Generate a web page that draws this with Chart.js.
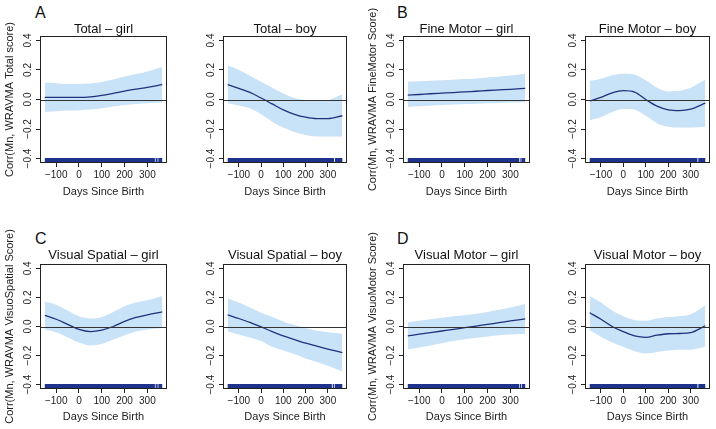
<!DOCTYPE html>
<html>
<head>
<meta charset="utf-8">
<script src="https://cdn.jsdelivr.net/npm/chart.js@4.4.0/dist/chart.umd.min.js"></script>
<style>
  body { margin: 0; background: #fff; }
  #fig { position: relative; width: 716px; height: 429px; overflow: hidden; }
  #fig canvas { position: absolute; }
  .letter { position: absolute; font: 16px 'Liberation Sans', Arial, sans-serif; line-height: 16px; color: #111; }
</style>
</head>
<body>
<div id="fig">
  <div class="letter" style="left:35px;top:5px">A</div>
  <div class="letter" style="left:397px;top:5px">B</div>
  <div class="letter" style="left:35px;top:231px">C</div>
  <div class="letter" style="left:397px;top:231px">D</div>
</div>
<script>
const days = [-150, -100, -50, 0, 50, 100, 150, 200, 250, 300, 365];
const xTicks = [-100, 0, 100, 200, 300];
const yTicks = [-0.4, -0.2, 0, 0.2, 0.4];

// A: Total
const totalGirlEst = [0.015, 0.015, 0.014, 0.014, 0.018, 0.028, 0.042, 0.057, 0.070, 0.082, 0.100];
const totalGirlHi  = [0.115, 0.110, 0.105, 0.105, 0.108, 0.118, 0.135, 0.155, 0.172, 0.190, 0.220];
const totalGirlLo  = [-0.085, -0.080, -0.075, -0.072, -0.068, -0.060, -0.048, -0.038, -0.030, -0.025, -0.020];
const totalBoyEst  = [0.100, 0.075, 0.048, 0.010, -0.030, -0.070, -0.100, -0.120, -0.130, -0.130, -0.110];
const totalBoyHi   = [0.230, 0.200, 0.160, 0.120, 0.080, 0.040, 0.010, -0.005, -0.010, -0.005, 0.035];
const totalBoyLo   = [-0.025, -0.040, -0.060, -0.100, -0.150, -0.190, -0.220, -0.240, -0.250, -0.250, -0.250];

// B: Fine Motor
const fineGirlEst = [0.030, 0.034, 0.039, 0.043, 0.047, 0.052, 0.056, 0.061, 0.065, 0.069, 0.075];
const fineGirlHi  = [0.120, 0.123, 0.127, 0.130, 0.134, 0.138, 0.143, 0.149, 0.155, 0.162, 0.175];
const fineGirlLo  = [-0.050, -0.046, -0.042, -0.038, -0.034, -0.031, -0.028, -0.025, -0.023, -0.021, -0.018];
const fineBoyEst  = [-0.010, 0.015, 0.045, 0.060, 0.050, 0.000, -0.045, -0.070, -0.075, -0.065, -0.025];
const fineBoyHi   = [0.125, 0.140, 0.165, 0.175, 0.170, 0.130, 0.080, 0.055, 0.060, 0.080, 0.135];
const fineBoyLo   = [-0.140, -0.120, -0.085, -0.065, -0.070, -0.110, -0.160, -0.185, -0.190, -0.190, -0.185];

// C: Visual Spatial
const spatGirlEst = [0.077, 0.050, 0.015, -0.020, -0.035, -0.025, 0.000, 0.035, 0.062, 0.080, 0.100];
const spatGirlHi  = [0.170, 0.150, 0.110, 0.070, 0.055, 0.065, 0.100, 0.140, 0.165, 0.180, 0.210];
const spatGirlLo  = [-0.020, -0.040, -0.075, -0.110, -0.130, -0.120, -0.090, -0.060, -0.035, -0.020, -0.010];
const spatBoyEst  = [0.080, 0.055, 0.028, -0.003, -0.035, -0.065, -0.090, -0.115, -0.135, -0.155, -0.180];
const spatBoyHi   = [0.195, 0.165, 0.130, 0.095, 0.065, 0.035, 0.010, -0.010, -0.030, -0.040, -0.050];
const spatBoyLo   = [-0.035, -0.055, -0.075, -0.100, -0.140, -0.165, -0.190, -0.220, -0.245, -0.270, -0.310];

// D: Visual Motor
const motGirlEst = [-0.065, -0.053, -0.042, -0.031, -0.020, -0.008, 0.003, 0.015, 0.026, 0.038, 0.052];
const motGirlHi  = [0.030, 0.040, 0.050, 0.060, 0.070, 0.078, 0.088, 0.100, 0.115, 0.130, 0.155];
const motGirlLo  = [-0.157, -0.145, -0.130, -0.115, -0.100, -0.088, -0.077, -0.068, -0.060, -0.055, -0.050];
const motBoyEst  = [0.095, 0.050, 0.000, -0.035, -0.065, -0.075, -0.060, -0.050, -0.048, -0.042, 0.005];
const motBoyHi   = [0.210, 0.165, 0.110, 0.070, 0.045, 0.040, 0.055, 0.065, 0.070, 0.085, 0.145];
const motBoyLo   = [-0.025, -0.070, -0.110, -0.140, -0.170, -0.185, -0.175, -0.165, -0.160, -0.160, -0.140];

// rug of observed days (solid runs with small gaps)
const rugTotalGirl = [[-150, 333], [336, 345], [348, 365]];
const rugTotalBoy  = [[-150, 328], [332, 365]];
const rugFineGirl  = [[-150, 338], [341, 345], [348, 365]];
const rugFineBoy   = [[-150, 330], [334, 365]];
const rugSpatGirl  = [[-150, 333], [336, 345], [348, 365]];
const rugSpatBoy   = [[-150, 318], [322, 328], [331, 365]];
const rugMotGirl   = [[-150, 338], [341, 348], [351, 365]];
const rugMotBoy    = [[-150, 330], [334, 365]];

const BAND = 'rgb(200, 226, 248)';
const LINE = 'rgb(35, 48, 125)';
const RUG = 'rgb(30, 52, 140)';
const INK = '#222';

Chart.defaults.font.family = "'Liberation Sans', Arial, sans-serif";
Chart.defaults.color = INK;

// zero reference line on top of the band, then the frame
const boxPlugin = {
  id: 'box',
  afterDatasetsDraw(chart) {
    const a = chart.chartArea;
    const ctx = chart.ctx;
    const y0 = Math.round(chart.scales.y.getPixelForValue(0)) + 0.5;
    ctx.save();
    ctx.strokeStyle = '#333';
    ctx.lineWidth = 1;
    ctx.beginPath();
    ctx.moveTo(a.left, y0);
    ctx.lineTo(a.right, y0);
    ctx.stroke();
    ctx.strokeStyle = INK;
    ctx.strokeRect(Math.round(a.left) + 0.5, Math.round(a.top) + 0.5,
      Math.round(a.width) - 1, Math.round(a.height) - 1);
    ctx.restore();
  }
};

const minus = s => s.replace('-', '\u2212');

function pts(ys) {
  return days.map((d, i) => ({ x: d, y: ys[i] }));
}

function rugPts(segs) {
  const out = [];
  segs.forEach((s, i) => {
    if (i > 0) out.push({ x: s[0] - 1, y: null });
    out.push({ x: s[0], y: -0.417 });
    out.push({ x: s[1], y: -0.417 });
  });
  return out;
}

const rows = {
  top:    { canvasTop: 0,   height: 215, boxTop: 36,  boxBottom: 163, titlePad: 23, titleGap: 0, xTitlePad: 17.5 },
  bottom: { canvasTop: 215, height: 214, boxTop: 264, boxBottom: 389, titlePad: 34, titleGap: 2, xTitlePad: 6.5 }
};
const cols = [[40, 167], [223, 347], [403, 530], [585, 710]];

const panels = [
  { row: 'top', col: 0, title: 'Total \u2013 girl', est: totalGirlEst, hi: totalGirlHi, lo: totalGirlLo, rug: rugTotalGirl, yTitle: 'Corr(Mn, WRAVMA Total score)' },
  { row: 'top', col: 1, title: 'Total \u2013 boy', est: totalBoyEst, hi: totalBoyHi, lo: totalBoyLo, rug: rugTotalBoy },
  { row: 'top', col: 2, title: 'Fine Motor \u2013 girl', est: fineGirlEst, hi: fineGirlHi, lo: fineGirlLo, rug: rugFineGirl, yTitle: 'Corr(Mn, WRAVMA FineMotor Score)' },
  { row: 'top', col: 3, title: 'Fine Motor \u2013 boy', est: fineBoyEst, hi: fineBoyHi, lo: fineBoyLo, rug: rugFineBoy },
  { row: 'bottom', col: 0, title: 'Visual Spatial \u2013 girl', est: spatGirlEst, hi: spatGirlHi, lo: spatGirlLo, rug: rugSpatGirl, yTitle: 'Corr(Mn, WRAVMA VisuoSpatial Score)' },
  { row: 'bottom', col: 1, title: 'Visual Spatial \u2013 boy', est: spatBoyEst, hi: spatBoyHi, lo: spatBoyLo, rug: rugSpatBoy },
  { row: 'bottom', col: 2, title: 'Visual Motor \u2013 girl', est: motGirlEst, hi: motGirlHi, lo: motGirlLo, rug: rugMotGirl, yTitle: 'Corr(Mn, WRAVMA VisuoMotor Score)' },
  { row: 'bottom', col: 3, title: 'Visual Motor \u2013 boy', est: motBoyEst, hi: motBoyHi, lo: motBoyLo, rug: rugMotBoy }
];

const fig = document.getElementById('fig');

panels.forEach(p => {
  const r = rows[p.row];
  const [boxL, boxR] = cols[p.col];
  const left = boxL - 40;
  const width = boxR + 5 - left;

  const canvas = document.createElement('canvas');
  canvas.width = width;
  canvas.height = r.height;
  canvas.style.left = left + 'px';
  canvas.style.top = r.canvasTop + 'px';
  canvas.style.width = width + 'px';
  canvas.style.height = r.height + 'px';
  fig.appendChild(canvas);

  new Chart(canvas.getContext('2d'), {
    type: 'line',
    data: {
      datasets: [
        { data: pts(p.est), borderColor: LINE, borderWidth: 1.3, pointRadius: 0, fill: false, cubicInterpolationMode: 'monotone' },
        { data: rugPts(p.rug), borderColor: RUG, borderWidth: 6, borderCapStyle: 'butt', pointRadius: 0, fill: false, spanGaps: false },
        { data: pts(p.hi), borderWidth: 0, borderColor: 'rgba(0,0,0,0)', backgroundColor: BAND, pointRadius: 0, fill: '+1', cubicInterpolationMode: 'monotone' },
        { data: pts(p.lo), borderWidth: 0, borderColor: 'rgba(0,0,0,0)', pointRadius: 0, fill: false, cubicInterpolationMode: 'monotone' }
      ]
    },
    options: {
      responsive: false,
      animation: false,
      devicePixelRatio: 1,
      layout: { padding: { top: r.titlePad, right: 5, left: 0, bottom: 0 } },
      plugins: {
        legend: { display: false },
        tooltip: { enabled: false },
        title: {
          display: true,
          text: p.title,
          fullSize: false,
          color: '#111',
          font: { size: 13, lineHeight: 1, weight: 'normal' },
          padding: { top: 0, bottom: r.titleGap }
        }
      },
      scales: {
        x: {
          type: 'linear',
          min: -171,
          max: 386,
          afterBuildTicks: s => { s.ticks = xTicks.map(v => ({ value: v })); },
          afterFit: s => { s.height = r.height - (r.boxBottom - r.canvasTop); },
          border: { display: false },
          grid: { drawOnChartArea: false, tickLength: 4, tickColor: INK },
          ticks: { font: { size: 10 }, padding: 2, maxRotation: 0, autoSkip: false,
            callback: v => minus(String(v)) },
          title: { display: true, text: 'Days Since Birth', font: { size: 11, lineHeight: 1 },
            padding: { top: 0, bottom: r.xTitlePad } }
        },
        y: {
          min: -0.43,
          max: 0.43,
          afterBuildTicks: s => { s.ticks = yTicks.map(v => ({ value: v })); },
          afterFit: s => { s.width = 40; },
          border: { display: false },
          grid: { drawOnChartArea: false, tickLength: 4, tickColor: INK },
          ticks: { font: { size: 10 }, minRotation: 90, maxRotation: 90, crossAlign: 'center', padding: -2,
            autoSkip: false, callback: v => minus(v.toFixed(1)) },
          title: { display: !!p.yTitle, text: p.yTitle || '', font: { size: 11, lineHeight: 1 },
            padding: { top: 4.5, bottom: 0 } }
        }
      }
    },
    plugins: [boxPlugin]
  });
});
</script>
</body>
</html>
